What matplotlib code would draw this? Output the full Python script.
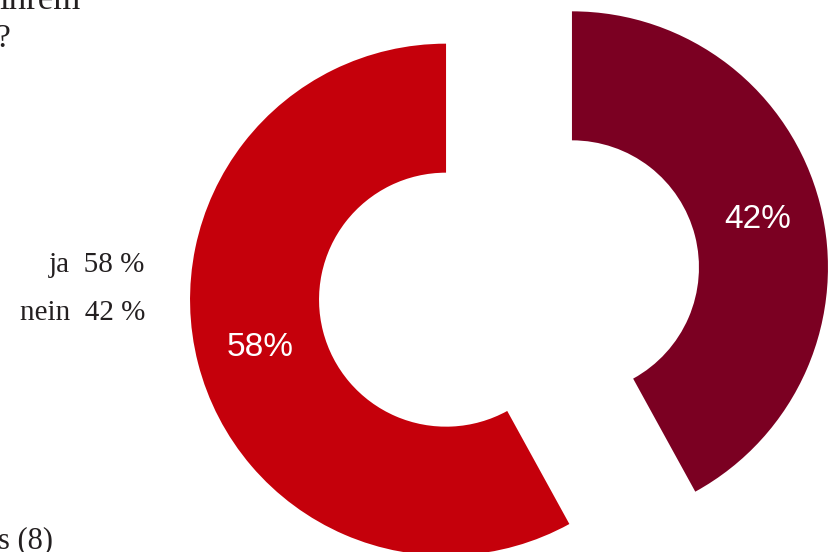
import matplotlib.pyplot as plt

# data
categories = ["ja", "nein"]
values = [58, 42]
colors = ["#c5000b", "#7b0022"]

W, H = 831, 552

fig = plt.figure(figsize=(W / 100, H / 100), dpi=100)
ax = fig.add_axes([0, 0, 1, 1])
ax.set_xlim(0, W)
ax.set_ylim(0, H)
ax.axis("off")

# exploded donut, pixel units
ax.pie(
    values,
    colors=colors,
    startangle=90,
    counterclock=True,
    radius=256,
    center=(509, 268.5),
    explode=[65, 65],
    wedgeprops=dict(width=129, linewidth=0),
    autopct="%d%%",
    pctdistance=0.75,
    textprops=dict(color="white", fontsize=24, family="Liberation Sans"),
)
ax.set_xlim(0, W)
ax.set_ylim(0, H)
ax.set_aspect("equal")

txt = "#231f20"
serif = "Liberation Serif"

# legend-like text on the left
for i, (cat, val) in enumerate(zip(categories, values)):
    ax.text(145, 280 - i * 48, f"{cat}  {val} %", ha="right", va="baseline",
            fontsize=21, family=serif, color=txt)

# cut-off title / footnote pieces
ax.text(80, 543, "ihrem", ha="right", va="baseline", fontsize=25, family=serif, color=txt)
ax.text(10, 505, "?", ha="right", va="baseline", fontsize=24, family=serif, color=txt)
ax.text(-2, 4, "s (8)", ha="left", va="baseline", fontsize=22, family=serif, color=txt)

fig.savefig("out.png", dpi=100)
